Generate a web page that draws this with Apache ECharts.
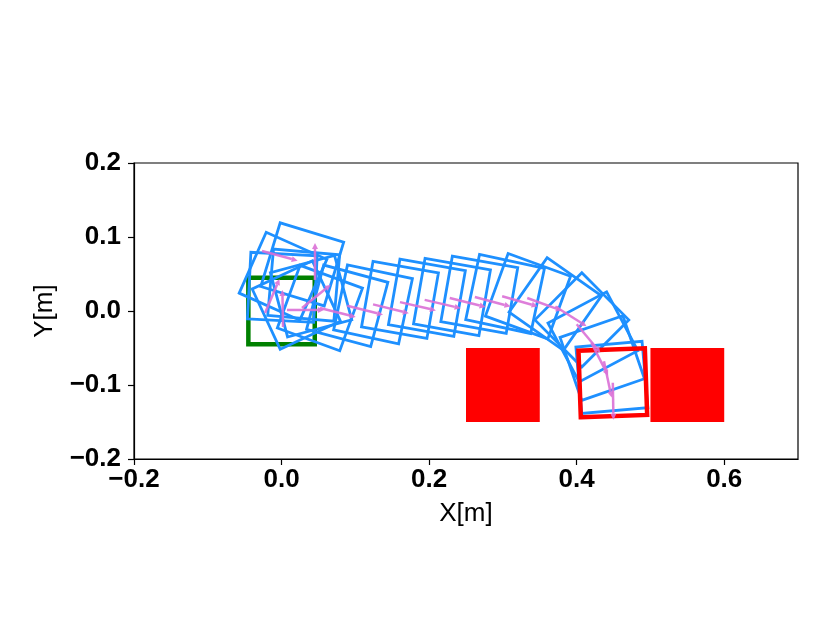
<!DOCTYPE html>
<html>
<head>
<meta charset="utf-8">
<script src="https://cdn.jsdelivr.net/npm/echarts@6/dist/echarts.min.js"></script>
<style>
  html, body { margin: 0; padding: 0; background: #fff; }
  #chart { width: 830px; height: 623px; }
</style>
</head>
<body>
<div id="chart"></div>
<script>
// box poses along the push (center x, center y, rotation in degrees)
const sqX   = [0.028, 0.002, 0.001, 0.030, 0.020, 0.040, 0.052, 0.089, 0.124, 0.1605, 0.197, 0.231, 0.268, 0.303, 0.334, 0.371, 0.407, 0.422, 0.4347, 0.4477];
const sqY   = [0.063, 0.047, 0.032, 0.035, 0.008, 0.020, 0.004, 0.007, 0.009, 0.015, 0.018, 0.019, 0.022, 0.023, 0.020, 0.0095, -0.012, -0.035, -0.0636, -0.0897];
const sqRot = [-17, -24, -3, -5, 25, 15, -20, -15, -12, -10, -10, -10, -10, -12, -20, -35, -45, -62, -71, -85];

// pusher arrows (start x, start y, direction in degrees)
const arrX   = [-0.0224, 0.002, -0.0265, 0.0453, 0.0074, 0.0277, 0.052, 0.089, 0.124, 0.1605, 0.194, 0.228, 0.262, 0.299, 0.333, 0.371, 0.400, 0.420, 0.437, 0.449];
const arrY   = [-0.0027, -0.0216, 0.081, 0.042, 0.0014, 0.0041, 0.004, 0.007, 0.009, 0.012, 0.015, 0.0176, 0.019, 0.020, 0.0176, 0.006, -0.018, -0.043, -0.068, -0.097];
const arrDir = [67, 91, -15, 90, 0, 39, -14, -14, -14, -13, -13, -14, -15, -16, -20, -32, -50, -63, -78, -89];

// start and goal poses
const startPose = [0.0, 0.0, 0];
const goalPose  = [0.449, -0.097, 2];

// obstacles (x0, x1, y0, y1)
const obsX0 = [0.25, 0.50];
const obsX1 = [0.35, 0.60];
const obsY0 = [-0.15, -0.15];
const obsY1 = [-0.05, -0.05];

const xTicks = [-0.2, 0.0, 0.2, 0.4, 0.6];
const yTicks = [-0.2, -0.1, 0.0, 0.1, 0.2];

const SIDE = 0.09;
const ARROW_LEN = 0.05;

const fmt = v => {
    let s = Math.abs(v) < 1e-9 ? '0.0' : v.toFixed(1);
    return s.replace('-', '\u2212');
};

function squareRenderer(color, width) {
    return function (params, api) {
        const cx = api.value(0), cy = api.value(1);
        const a = api.value(2) * Math.PI / 180;
        const c = Math.cos(a), s = Math.sin(a), h = SIDE / 2;
        const pts = [[-h, -h], [h, -h], [h, h], [-h, h]].map(p =>
            api.coord([cx + p[0] * c - p[1] * s, cy + p[0] * s + p[1] * c]));
        return {
            type: 'polygon',
            shape: { points: pts },
            style: { fill: 'none', stroke: color, lineWidth: width, lineJoin: 'miter' }
        };
    };
}

function arrowRenderer(params, api) {
    const x = api.value(0), y = api.value(1);
    const a = api.value(2) * Math.PI / 180;
    const p0 = api.coord([x, y]);
    const p1 = api.coord([x + ARROW_LEN * Math.cos(a), y + ARROW_LEN * Math.sin(a)]);
    const dx = p1[0] - p0[0], dy = p1[1] - p0[1];
    const L = Math.sqrt(dx * dx + dy * dy) || 1;
    const ux = dx / L, uy = dy / L;
    const hl = 6, hw = 3;
    const base = [p1[0] - ux * hl, p1[1] - uy * hl];
    return {
        type: 'group',
        children: [{
            type: 'line',
            shape: { x1: p0[0], y1: p0[1], x2: base[0], y2: base[1] },
            style: { stroke: '#da70d6', lineWidth: 2.5, opacity: 0.9 }
        }, {
            type: 'polygon',
            shape: { points: [p1, [base[0] - uy * hw, base[1] + ux * hw], [base[0] + uy * hw, base[1] - ux * hw]] },
            style: { fill: '#da70d6', opacity: 0.9 }
        }]
    };
}

function obstacleRenderer(params, api) {
    const a = api.coord([api.value(0), api.value(3)]);
    const b = api.coord([api.value(1), api.value(2)]);
    return {
        type: 'rect',
        shape: { x: a[0], y: a[1], width: b[0] - a[0], height: b[1] - a[1] },
        style: { fill: '#ff0000' }
    };
}

const boxes = sqX.map((x, i) => [x, sqY[i], sqRot[i]]);
const arrows = arrX.map((x, i) => [x, arrY[i], arrDir[i]]);
const obstacles = obsX0.map((x, i) => [x, obsX1[i], obsY0[i], obsY1[i]]);

const chart = echarts.init(document.getElementById('chart'), null, { renderer: 'canvas' });

const axisCommon = {
    type: 'value',
    axisLine: { show: true, onZero: false, lineStyle: { color: '#000', width: 1.2 } },
    axisTick: { show: true, inside: false, length: 6, lineStyle: { color: '#000', width: 1.2 } },
    splitLine: { show: false },
    nameTextStyle: { fontFamily: 'Liberation Sans', fontSize: 26, color: '#000' }
};

chart.setOption({
    backgroundColor: '#fff',
    animation: false,
    grid: {
        left: 134, top: 163, width: 664, height: 296,
        show: true, borderColor: '#000', borderWidth: 1.2, backgroundColor: 'transparent'
    },
    xAxis: Object.assign({}, axisCommon, {
        min: -0.2, max: 0.7,
        name: 'X[m]', nameLocation: 'middle', nameGap: 42,
        axisTick: Object.assign({}, axisCommon.axisTick, { customValues: xTicks }),
        axisLabel: {
            customValues: xTicks, formatter: fmt, margin: 8,
            fontFamily: 'Liberation Sans', fontWeight: 'bold', fontSize: 26, color: '#000'
        }
    }),
    yAxis: Object.assign({}, axisCommon, {
        min: -0.2, max: 0.2,
        name: 'Y[m]', nameLocation: 'middle', nameGap: 76, nameRotate: 90,
        axisTick: Object.assign({}, axisCommon.axisTick, { customValues: yTicks }),
        axisLabel: {
            customValues: yTicks, formatter: fmt, margin: 13,
            fontFamily: 'Liberation Sans', fontWeight: 'bold', fontSize: 26, color: '#000'
        }
    }),
    series: [{
        type: 'custom', name: 'start', renderItem: squareRenderer('#008000', 4.5),
        data: [startPose], z: 1, silent: true
    }, {
        type: 'custom', name: 'box', renderItem: squareRenderer('#1e90ff', 2.8),
        data: boxes, z: 2, silent: true
    }, {
        type: 'custom', name: 'goal', renderItem: squareRenderer('#ff0000', 4.5),
        data: [goalPose], z: 3, silent: true
    }, {
        type: 'custom', name: 'pusher', renderItem: arrowRenderer,
        data: arrows, z: 4, silent: true
    }, {
        type: 'custom', name: 'obstacles', renderItem: obstacleRenderer,
        data: obstacles, z: 5, silent: true
    }]
});
</script>
</body>
</html>
